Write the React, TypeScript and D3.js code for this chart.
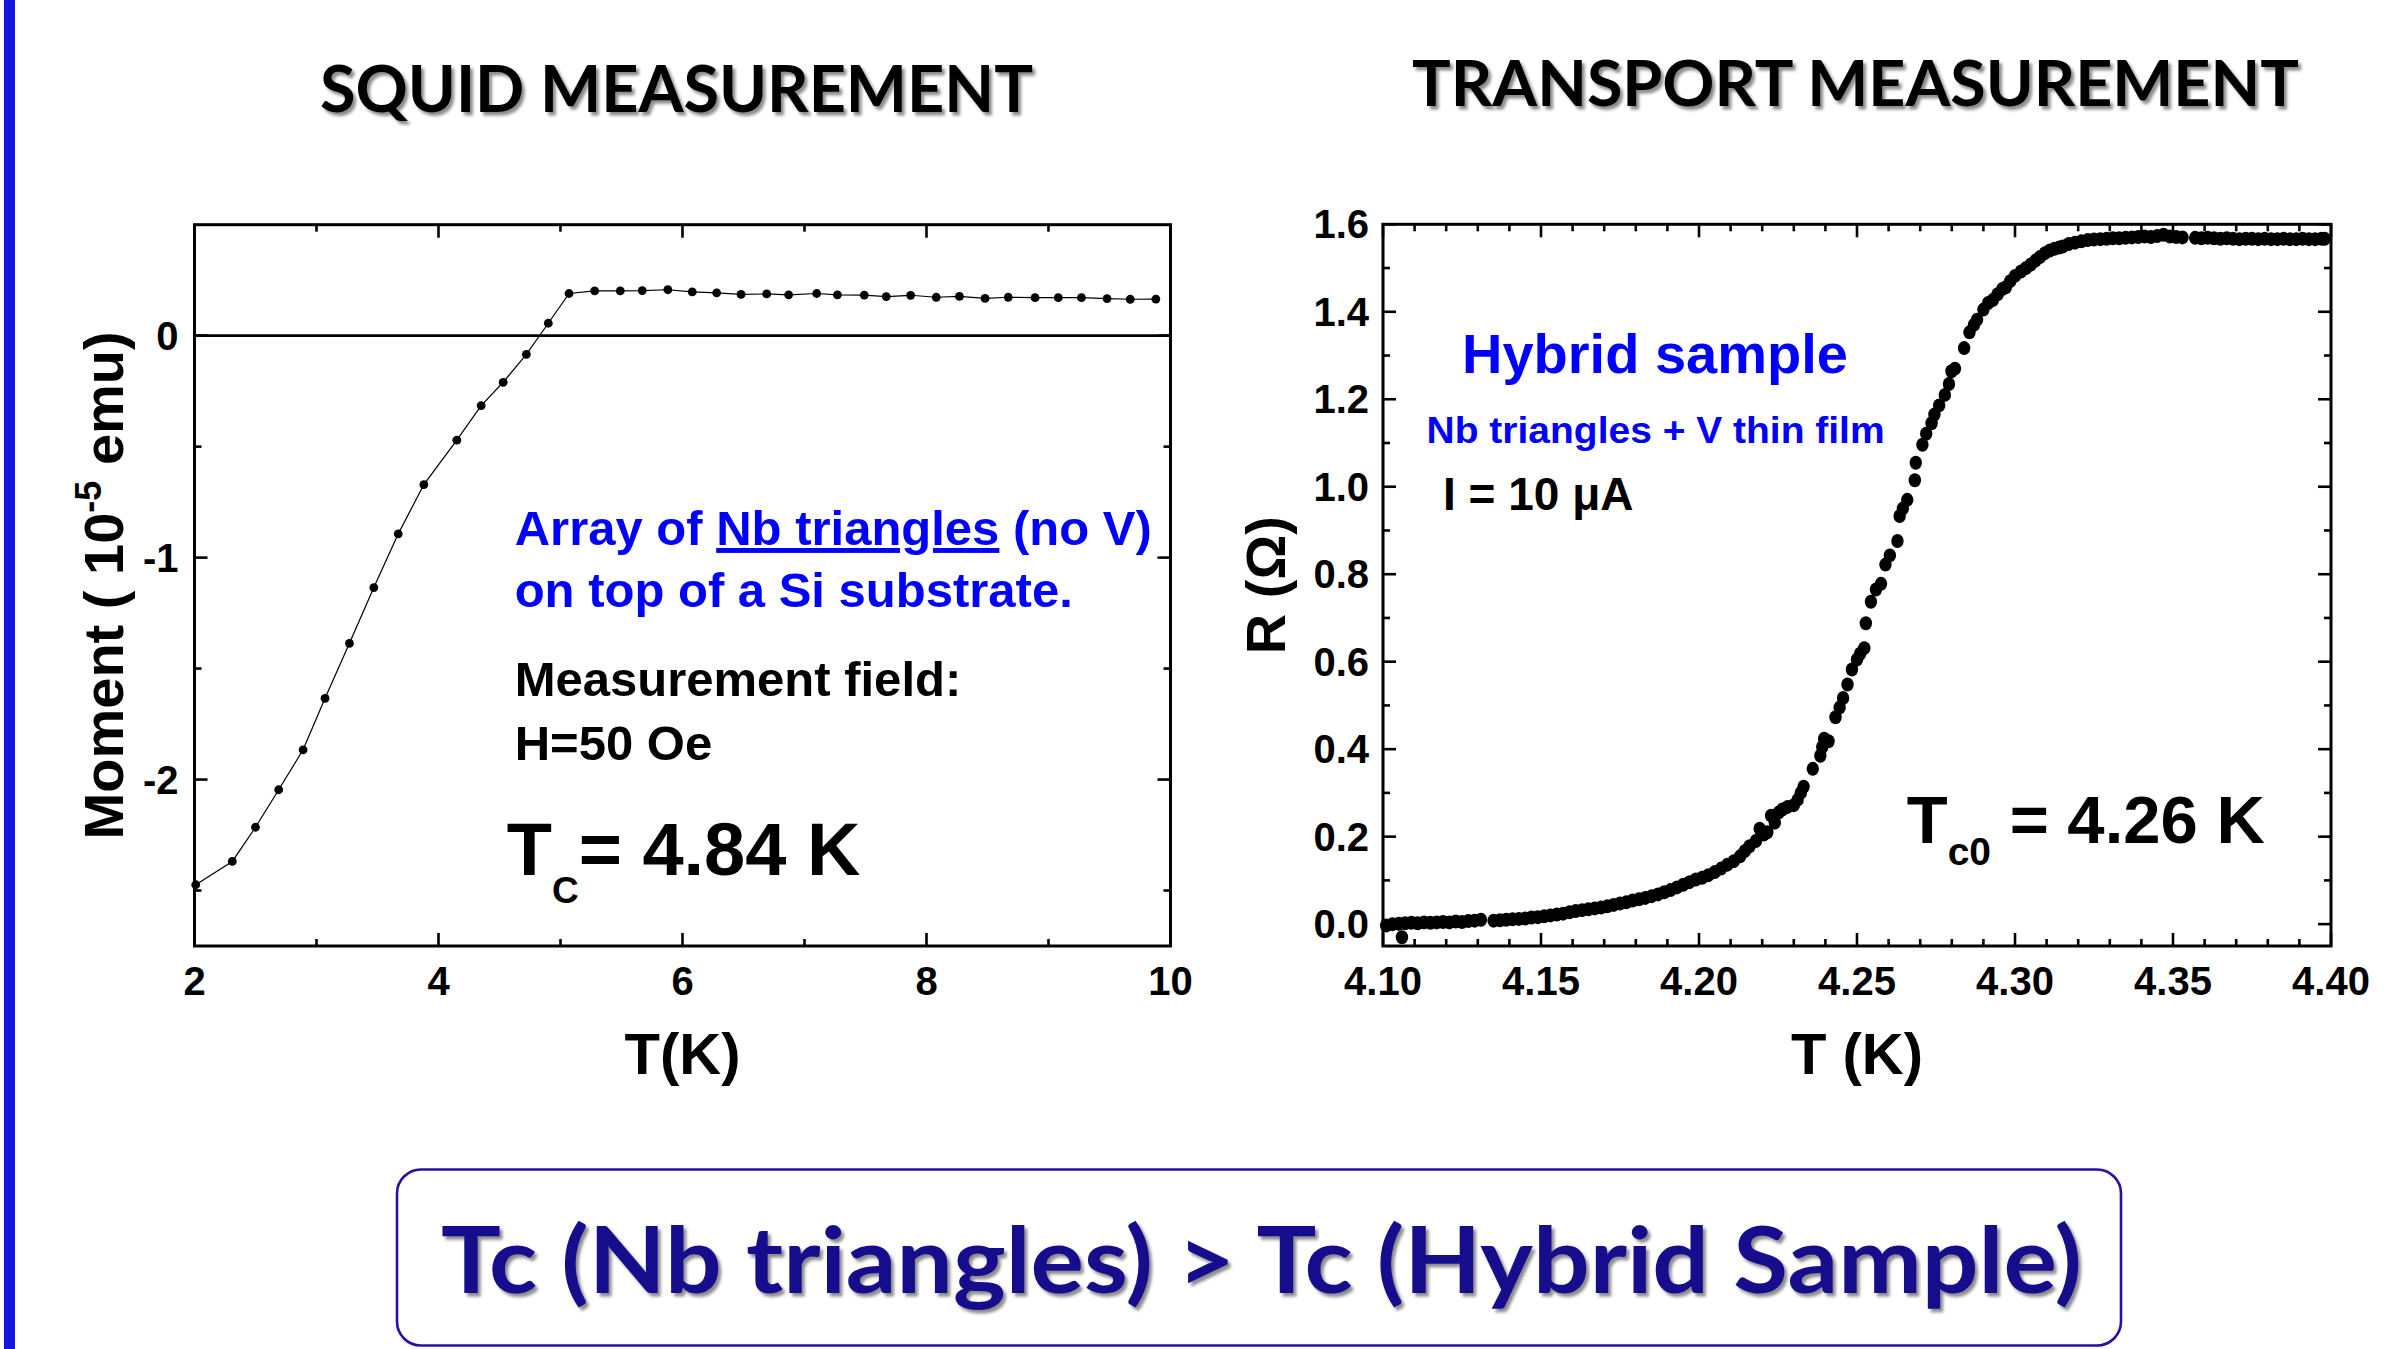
import React from 'react';
import * as d3 from 'd3';

// ---------- SQUID data (T in K, moment in 1e-5 emu) ----------
const squidT = [2.01, 2.31, 2.50, 2.69, 2.89, 3.07, 3.27, 3.47, 3.67, 3.88,
  4.15, 4.35, 4.53, 4.72, 4.90,
  5.07, 5.28, 5.49, 5.67, 5.88,
  6.08, 6.28, 6.48, 6.69, 6.87,
  7.10, 7.27, 7.49, 7.67, 7.87,
  8.08, 8.27, 8.48, 8.67, 8.89,
  9.08, 9.27, 9.48, 9.67, 9.88];
const squidM = [-2.474, -2.369, -2.215, -2.046, -1.866, -1.634, -1.386, -1.135, -0.893, -0.671,
  -0.471, -0.315, -0.210, -0.084, 0.056,
  0.190, 0.202, 0.202, 0.203, 0.207,
  0.197, 0.193, 0.186, 0.188, 0.184,
  0.190, 0.184, 0.183, 0.176, 0.182,
  0.173, 0.177, 0.168, 0.173, 0.171,
  0.171, 0.171, 0.167, 0.164, 0.165];

const squidXMajor = [2, 4, 6, 8, 10];
const squidXMinor = [3, 5, 7, 9];
const squidYMajor = [-2, -1, 0];
const squidYMinor = [-2.5, -1.5, -0.5];

// ---------- Transport data (T in K, R in Ohm) ----------
const transportFoot: [number, number][] = [
  [4.101, -0.003], [4.103, 0.000], [4.105, 0.001], [4.106, -0.030], [4.107, 0.002], [4.109, 0.003],
  [4.111, 0.002], [4.113, 0.004], [4.115, 0.003], [4.117, 0.004], [4.119, 0.005],
  [4.121, 0.004], [4.123, 0.006], [4.125, 0.005], [4.127, 0.007], [4.129, 0.008], [4.131, 0.010],
  [4.135, 0.008], [4.137, 0.009], [4.139, 0.010], [4.141, 0.011], [4.143, 0.012],
  [4.145, 0.013], [4.147, 0.015], [4.149, 0.016], [4.151, 0.018], [4.153, 0.020],
  [4.155, 0.022], [4.157, 0.024], [4.159, 0.027], [4.161, 0.030], [4.163, 0.032],
  [4.165, 0.034], [4.167, 0.036], [4.169, 0.038], [4.171, 0.041], [4.173, 0.044],
  [4.175, 0.047], [4.177, 0.050], [4.179, 0.054], [4.181, 0.057], [4.183, 0.060],
  [4.185, 0.064], [4.187, 0.068], [4.189, 0.073], [4.191, 0.078], [4.193, 0.084],
  [4.195, 0.090], [4.197, 0.096], [4.199, 0.102],
];
const transportRise: [number, number][] = [
  [4.201, 0.106], [4.203, 0.112], [4.205, 0.119], [4.207, 0.127], [4.209, 0.136],
  [4.211, 0.144], [4.213, 0.155], [4.2145, 0.167], [4.216, 0.178], [4.218, 0.190],
  [4.2192, 0.218], [4.2205, 0.205], [4.2216, 0.210], [4.2228, 0.248], [4.2240, 0.232],
  [4.2252, 0.255], [4.2264, 0.262], [4.2280, 0.268], [4.2300, 0.272], [4.2312, 0.284],
  [4.2322, 0.300], [4.2331, 0.314], [4.2360, 0.355], [4.2384, 0.385], [4.2390, 0.405],
  [4.2396, 0.424], [4.2410, 0.418], [4.2432, 0.473], [4.2445, 0.495], [4.2456, 0.517],
  [4.2470, 0.548], [4.2484, 0.582], [4.2500, 0.605], [4.2510, 0.618], [4.2523, 0.631],
  [4.2528, 0.688], [4.2544, 0.737], [4.2560, 0.765], [4.2576, 0.778], [4.2590, 0.822],
  [4.2604, 0.843], [4.2628, 0.876], [4.2635, 0.933], [4.2645, 0.950], [4.2659, 0.970],
  [4.2683, 1.015], [4.2686, 1.055], [4.2707, 1.096], [4.2719, 1.121], [4.2736, 1.145],
  [4.2745, 1.165], [4.2760, 1.186], [4.2778, 1.210], [4.2791, 1.235], [4.2799, 1.264],
  [4.2810, 1.270], [4.2839, 1.317], [4.2856, 1.353], [4.2870, 1.370], [4.2880, 1.382],
  [4.2900, 1.405], [4.2915, 1.420], [4.2930, 1.427], [4.2945, 1.440], [4.2960, 1.452],
  [4.2971, 1.456], [4.2985, 1.470], [4.3000, 1.482], [4.3019, 1.492], [4.3035, 1.500],
  [4.3050, 1.508], [4.3065, 1.517], [4.3079, 1.525], [4.3095, 1.534], [4.3110, 1.540],
  [4.3125, 1.544], [4.3140, 1.547], [4.3151, 1.549], [4.3170, 1.555], [4.3190, 1.558],
  [4.3210, 1.561], [4.3230, 1.564],
];
const transportPlateau: [number, number][] = [
  [4.325, 1.565], [4.327, 1.566], [4.329, 1.567], [4.331, 1.568], [4.333, 1.568],
  [4.335, 1.569], [4.337, 1.570], [4.339, 1.571], [4.341, 1.572], [4.343, 1.571],
  [4.345, 1.573], [4.347, 1.576], [4.349, 1.572], [4.351, 1.571], [4.353, 1.570],
  [4.357, 1.569], [4.359, 1.568], [4.361, 1.569], [4.363, 1.568],
  [4.365, 1.567], [4.367, 1.568], [4.369, 1.567], [4.371, 1.566], [4.373, 1.567],
  [4.375, 1.567], [4.377, 1.566], [4.379, 1.567], [4.381, 1.566], [4.383, 1.566],
  [4.385, 1.567], [4.387, 1.566], [4.389, 1.566], [4.391, 1.567], [4.393, 1.566],
  [4.395, 1.566], [4.397, 1.567], [4.398, 1.567],
];

const transXMajor = [4.10, 4.15, 4.20, 4.25, 4.30, 4.35, 4.40];
const transYMajor = [0.0, 0.2, 0.4, 0.6, 0.8, 1.0, 1.2, 1.4, 1.6];

const AX_FONT = '"Liberation Sans", Arial, sans-serif';
const TITLE_FONT = 'Lato, "Open Sans", sans-serif';

type Frame = { x0: number; x1: number; y0: number; y1: number };

function Ticks({ f, xs, ys, xMaj, xMin, yMaj, yMin }: {
  f: Frame; xs: (v: number) => number; ys: (v: number) => number;
  xMaj: number[]; xMin: number[]; yMaj: number[]; yMin: number[];
}) {
  const MAJ = 13, MIN = 7;
  const lines: React.ReactNode[] = [];
  const add = (k: string, x1: number, y1: number, x2: number, y2: number) =>
    lines.push(<line key={k} x1={x1} y1={y1} x2={x2} y2={y2} stroke="#000" strokeWidth={2.6} />);
  xMaj.forEach((v, i) => { const x = xs(v); add('xb' + i, x, f.y1, x, f.y1 - MAJ); add('xt' + i, x, f.y0, x, f.y0 + MAJ); });
  xMin.forEach((v, i) => { const x = xs(v); add('xbm' + i, x, f.y1, x, f.y1 - MIN); add('xtm' + i, x, f.y0, x, f.y0 + MIN); });
  yMaj.forEach((v, i) => { const y = ys(v); add('yl' + i, f.x0, y, f.x0 + MAJ, y); add('yr' + i, f.x1, y, f.x1 - MAJ, y); });
  yMin.forEach((v, i) => { const y = ys(v); add('ylm' + i, f.x0, y, f.x0 + MIN, y); add('yrm' + i, f.x1, y, f.x1 - MIN, y); });
  return <g>{lines}</g>;
}

export default function App() {
  const W = 2386, H = 1349;

  // Left (SQUID) plot
  const L: Frame = { x0: 194.5, x1: 1170.5, y0: 224.7, y1: 946 };
  const xL = d3.scaleLinear().domain([2, 10]).range([L.x0, L.x1]);
  const yL = d3.scaleLinear().domain([-2.75, 0.5]).range([L.y1, L.y0]);
  const squidPts = squidT.map((t, i) => [t, squidM[i]] as [number, number]);
  const squidLine = d3.line<[number, number]>().x(d => xL(d[0])).y(d => yL(d[1]))(squidPts) || '';

  // Right (transport) plot
  const R: Frame = { x0: 1383, x1: 2331, y0: 224.3, y1: 946 };
  const xR = d3.scaleLinear().domain([4.10, 4.40]).range([R.x0, R.x1]);
  const yR = d3.scaleLinear().domain([-0.05, 1.6]).range([R.y1, R.y0]);
  const transPts = [...transportFoot, ...transportRise, ...transportPlateau];
  const transXMinor = d3.range(4.11, 4.40, 0.01).filter(v => Math.abs(Math.round(v * 20) - v * 20) > 0.01);
  const transYMinor = d3.range(0.1, 1.6, 0.2);

  return (
    <svg width={W} height={H} viewBox={`0 0 ${W} ${H}`}
      style={{ position: 'absolute', left: 0, top: 0, background: '#fff' }}>
      <defs>
        <filter id="shadow" x="-5%" y="-20%" width="110%" height="160%">
          <feDropShadow dx="3" dy="3.5" stdDeviation="1.6" floodColor="#000" floodOpacity="0.45" />
        </filter>
      </defs>
      <rect x={0} y={0} width={W} height={H} fill="#fff" />
      {/* left blue bar */}
      <rect x={4} y={0} width={11} height={H} fill="#1414e0" />

      {/* Titles */}
      <text x={320} y={112} fontFamily={TITLE_FONT} fontWeight={700} fontSize={65}
        textLength={713} lengthAdjust="spacingAndGlyphs" fill="#000" filter="url(#shadow)">SQUID MEASUREMENT</text>
      <text x={1412} y={106} fontFamily={TITLE_FONT} fontWeight={700} fontSize={64}
        textLength={887} lengthAdjust="spacingAndGlyphs" fill="#000" filter="url(#shadow)">TRANSPORT MEASUREMENT</text>

      {/* ---------- Left plot ---------- */}
      <g fontFamily={AX_FONT} fontWeight="bold">
        <line x1={L.x0} x2={L.x1} y1={yL(0)} y2={yL(0)} stroke="#000" strokeWidth={2.6} />
        <path d={squidLine} fill="none" stroke="#000" strokeWidth={1.2} />
        {squidPts.map((d, i) => (
          <circle key={i} cx={xL(d[0])} cy={yL(d[1])} r={4.4} fill="#000" />
        ))}
        <rect x={L.x0} y={L.y0} width={L.x1 - L.x0} height={L.y1 - L.y0} fill="none" stroke="#000" strokeWidth={3} />
        <Ticks f={L} xs={xL} ys={yL} xMaj={squidXMajor} xMin={squidXMinor} yMaj={squidYMajor} yMin={squidYMinor} />
        {squidXMajor.map(v => (
          <text key={v} x={xL(v)} y={995} fontSize={40} textAnchor="middle">{v}</text>
        ))}
        {squidYMajor.map(v => (
          <text key={v} x={L.x0 - 16} y={yL(v)} fontSize={40} textAnchor="end" dominantBaseline="central">{v}</text>
        ))}
        <text x={(L.x0 + L.x1) / 2} y={1074} fontSize={58} textAnchor="middle">T(K)</text>
        <text transform={`translate(123, ${(L.y0 + L.y1) / 2}) rotate(-90)`} fontSize={56} textAnchor="middle">
          Moment ( 10<tspan fontSize={36} dy={-22}>-5</tspan><tspan dy={22}> emu)</tspan>
        </text>

        <text x={514.7} y={545} fontSize={49} fill="#0000ff">
          Array of <tspan style={{ textDecoration: 'underline' }}>Nb triangles</tspan> (no V)
        </text>
        <text x={514.7} y={606.5} fontSize={49} fill="#0000ff">on top of a Si substrate.</text>
        <text x={514.7} y={696} fontSize={49} fill="#000">Measurement field:</text>
        <text x={514.7} y={760} fontSize={49} fill="#000">H=50 Oe</text>
        <text x={506.7} y={875} fontSize={74} fill="#000">
          T<tspan fontSize={37} dy={28}>C</tspan><tspan dy={-28}>= 4.84 K</tspan>
        </text>
      </g>

      {/* ---------- Right plot ---------- */}
      <g fontFamily={AX_FONT} fontWeight="bold">
        {transPts.map((d, i) => (
          <ellipse key={i} cx={xR(d[0])} cy={yR(d[1])} rx={6.2} ry={7} fill="#000" />
        ))}
        <rect x={R.x0} y={R.y0} width={R.x1 - R.x0} height={R.y1 - R.y0} fill="none" stroke="#000" strokeWidth={3} />
        <Ticks f={R} xs={xR} ys={yR} xMaj={transXMajor} xMin={transXMinor} yMaj={transYMajor} yMin={transYMinor} />
        {transXMajor.map(v => (
          <text key={v} x={xR(v)} y={995} fontSize={40} textAnchor="middle">{v.toFixed(2)}</text>
        ))}
        {transYMajor.map(v => (
          <text key={v} x={R.x0 - 14} y={yR(v)} fontSize={40} textAnchor="end" dominantBaseline="central">{v.toFixed(1)}</text>
        ))}
        <text x={(R.x0 + R.x1) / 2} y={1074} fontSize={58} textAnchor="middle">T (K)</text>
        <text transform={`translate(1285, ${(R.y0 + R.y1) / 2}) rotate(-90)`} fontSize={56} textAnchor="middle">R (Ω)</text>

        <text x={1462} y={373} fontSize={56} fill="#0000ff">Hybrid sample</text>
        <text x={1426.6} y={442.5} fontSize={37} fill="#0000ff" textLength={458} lengthAdjust="spacingAndGlyphs">Nb triangles + V thin film</text>
        <text x={1443} y={510} fontSize={46} fill="#000">I = 10 μA</text>
        <text x={1906.7} y={843} fontSize={67} fill="#000">
          T<tspan fontSize={39} dy={22}>c0</tspan><tspan dy={-22}> = 4.26 K</tspan>
        </text>
      </g>

      {/* ---------- Bottom conclusion box ---------- */}
      <rect x={397} y={1169.5} width={1724} height={176} rx={24} ry={24} fill="#fff" stroke="#2412a0" strokeWidth={2.6} />
      <text x={441} y={1292.7} fontFamily={TITLE_FONT} fontWeight={700} fontSize={91}
        textLength={1641} lengthAdjust="spacingAndGlyphs" fill="#170b8c" filter="url(#shadow)">
        Tc (Nb triangles) &gt; Tc (Hybrid Sample)
      </text>
    </svg>
  );
}
